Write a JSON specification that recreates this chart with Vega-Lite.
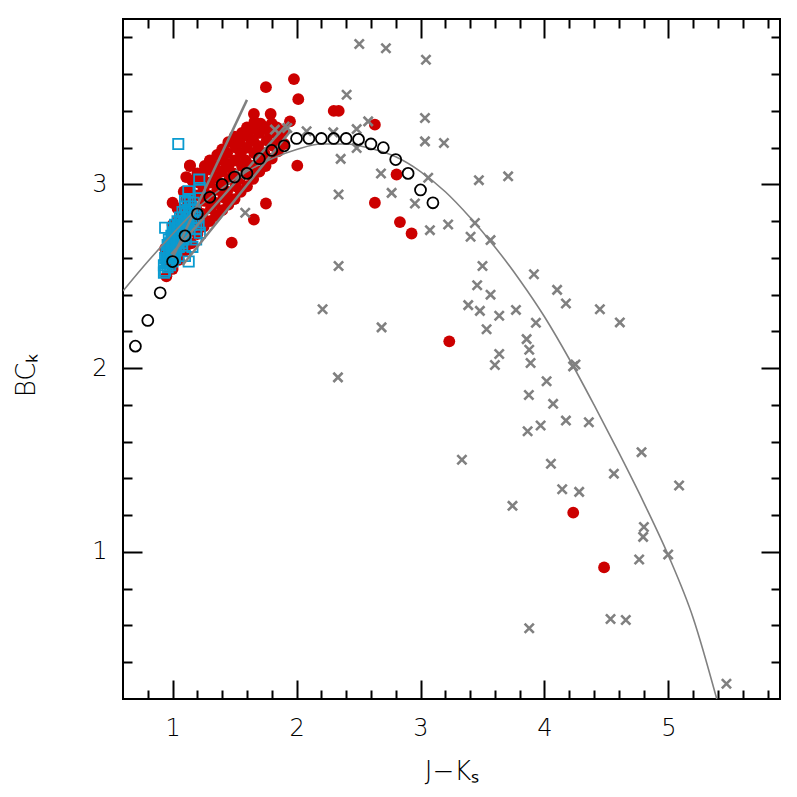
{
  "$schema": "https://vega.github.io/schema/vega-lite/v6.json",
  "width": 657,
  "height": 680,
  "autosize": "none",
  "padding": {"left": 123, "top": 19, "right": 17, "bottom": 98},
  "background": "white",
  "config": {
    "view": {"stroke": "black", "strokeWidth": 2},
    "axis": {
      "grid": false, "domain": false, "tickColor": "black", "tickWidth": 2,
      "labelFont": "DejaVu Sans", "titleFont": "DejaVu Sans",
      "labelColor": "black", "titleColor": "black",
      "labelFontWeight": 200, "titleFontWeight": 200,
      "labelFontSize": 24, "titleFontSize": 26
    }
  },
  "datasets": {
    "red": [
      {"x":0.95,"y":2.50},{"x":0.96,"y":2.58},{"x":0.94,"y":2.65},
      {"x":1.00,"y":2.54},{"x":1.01,"y":2.62},{"x":0.99,"y":2.70},{"x":1.00,"y":2.78},{"x":1.00,"y":2.90},
      {"x":1.05,"y":2.59},{"x":1.04,"y":2.67},{"x":1.06,"y":2.74},{"x":1.05,"y":2.81},{"x":1.04,"y":2.87},
      {"x":1.10,"y":2.64},{"x":1.11,"y":2.71},{"x":1.09,"y":2.78},{"x":1.10,"y":2.85},{"x":1.11,"y":2.92},{"x":1.09,"y":2.96},{"x":1.11,"y":3.04},
      {"x":1.15,"y":2.68},{"x":1.14,"y":2.75},{"x":1.16,"y":2.82},{"x":1.15,"y":2.89},{"x":1.14,"y":2.96},{"x":1.16,"y":3.02},{"x":1.14,"y":3.10},
      {"x":1.20,"y":2.73},{"x":1.21,"y":2.80},{"x":1.19,"y":2.87},{"x":1.20,"y":2.94},{"x":1.21,"y":3.01},{"x":1.20,"y":3.06},
      {"x":1.25,"y":2.77},{"x":1.24,"y":2.84},{"x":1.26,"y":2.91},{"x":1.25,"y":2.98},{"x":1.24,"y":3.05},{"x":1.26,"y":3.10},
      {"x":1.30,"y":2.80},{"x":1.31,"y":2.87},{"x":1.29,"y":2.94},{"x":1.30,"y":3.01},{"x":1.31,"y":3.08},{"x":1.30,"y":3.13},
      {"x":1.35,"y":2.83},{"x":1.34,"y":2.90},{"x":1.36,"y":2.97},{"x":1.35,"y":3.04},{"x":1.34,"y":3.10},{"x":1.36,"y":3.16},
      {"x":1.40,"y":2.86},{"x":1.41,"y":2.93},{"x":1.39,"y":3.00},{"x":1.40,"y":3.07},{"x":1.41,"y":3.13},{"x":1.40,"y":3.19},
      {"x":1.45,"y":2.89},{"x":1.44,"y":2.96},{"x":1.46,"y":3.03},{"x":1.45,"y":3.10},{"x":1.44,"y":3.17},{"x":1.45,"y":3.23},
      {"x":1.50,"y":2.92},{"x":1.51,"y":2.99},{"x":1.49,"y":3.06},{"x":1.50,"y":3.13},{"x":1.51,"y":3.20},{"x":1.50,"y":3.26},
      {"x":1.55,"y":2.96},{"x":1.54,"y":3.03},{"x":1.56,"y":3.10},{"x":1.55,"y":3.17},{"x":1.54,"y":3.23},{"x":1.56,"y":3.28},
      {"x":1.60,"y":2.99},{"x":1.61,"y":3.06},{"x":1.59,"y":3.13},{"x":1.60,"y":3.20},{"x":1.61,"y":3.26},{"x":1.60,"y":3.31},
      {"x":1.65,"y":3.03},{"x":1.64,"y":3.10},{"x":1.66,"y":3.17},{"x":1.65,"y":3.24},{"x":1.64,"y":3.30},{"x":1.66,"y":3.34},
      {"x":1.70,"y":3.07},{"x":1.71,"y":3.14},{"x":1.69,"y":3.21},{"x":1.70,"y":3.28},{"x":1.71,"y":3.33},
      {"x":1.75,"y":3.10},{"x":1.74,"y":3.17},{"x":1.76,"y":3.24},{"x":1.75,"y":3.31},
      {"x":1.80,"y":3.14},{"x":1.81,"y":3.21},{"x":1.79,"y":3.28},{"x":1.80,"y":3.33},
      {"x":1.85,"y":3.18},{"x":1.86,"y":3.25},{"x":1.84,"y":3.31},
      {"x":1.90,"y":3.22},{"x":1.89,"y":3.29},
      {"x":1.979,"y":3.573},{"x":2.014,"y":3.464},{"x":2.30,"y":3.40},{"x":2.34,"y":3.40},{"x":1.947,"y":3.343},
      {"x":2.632,"y":3.325},{"x":2.006,"y":3.102},{"x":2.807,"y":3.054},{"x":2.632,"y":2.90},{"x":2.834,"y":2.795},
      {"x":2.928,"y":2.733},{"x":3.232,"y":2.146},{"x":1.753,"y":3.529},{"x":1.656,"y":3.383},{"x":1.791,"y":3.383},
      {"x":1.753,"y":2.896},{"x":1.656,"y":2.809},{"x":1.477,"y":2.683},{"x":1.14,"y":3.104},{"x":4.232,"y":1.214},{"x":4.481,"y":0.916}
    ],
    "crosses": [
      {"x":2.506,"y":3.764},{"x":2.721,"y":3.741},{"x":3.044,"y":3.678},{"x":2.404,"y":3.488},{"x":3.036,"y":3.361},
      {"x":2.578,"y":3.343},{"x":2.485,"y":3.301},{"x":2.081,"y":3.289},{"x":2.296,"y":3.283},{"x":3.036,"y":3.234},
      {"x":3.189,"y":3.225},{"x":2.485,"y":3.198},{"x":2.356,"y":3.139},{"x":3.062,"y":3.036},{"x":2.681,"y":3.059},
      {"x":2.767,"y":2.954},{"x":2.339,"y":2.945},{"x":2.955,"y":2.896},{"x":3.076,"y":2.751},{"x":3.223,"y":2.782},
      {"x":2.339,"y":2.556},{"x":2.21,"y":2.321},{"x":2.686,"y":2.222},{"x":2.334,"y":1.95},{"x":3.334,"y":1.502},
      {"x":1.586,"y":2.846},{"x":1.826,"y":3.298},{"x":1.925,"y":3.307},{"x":1.544,"y":3.054},
      {"x":3.471,"y":3.023},{"x":3.439,"y":2.79},{"x":3.404,"y":2.715},{"x":3.50,"y":2.556},{"x":3.457,"y":2.451},
      {"x":3.385,"y":2.343},{"x":3.479,"y":2.312},{"x":3.533,"y":2.212},{"x":3.707,"y":3.044},{"x":3.565,"y":2.697},
      {"x":3.915,"y":2.511},{"x":4.102,"y":2.426},{"x":3.565,"y":2.40},{"x":4.173,"y":2.352},{"x":3.635,"y":2.285},
      {"x":3.77,"y":2.317},{"x":4.447,"y":2.321},{"x":3.931,"y":2.247},{"x":4.608,"y":2.249},{"x":3.856,"y":2.158},
      {"x":3.877,"y":2.10},{"x":3.635,"y":2.077},{"x":3.60,"y":2.017},{"x":3.888,"y":2.028},{"x":4.231,"y":2.01},
      {"x":4.25,"y":2.02},{"x":4.017,"y":1.929},{"x":3.874,"y":1.854},{"x":4.07,"y":1.806},{"x":4.173,"y":1.715},
      {"x":4.358,"y":1.706},{"x":3.864,"y":1.657},{"x":3.969,"y":1.688},{"x":4.783,"y":1.543},{"x":4.052,"y":1.480},
      {"x":4.56,"y":1.426},{"x":5.086,"y":1.362},{"x":4.143,"y":1.341},{"x":4.28,"y":1.327},{"x":3.742,"y":1.251},
      {"x":4.802,"y":1.136},{"x":4.796,"y":1.082},{"x":4.998,"y":0.986},{"x":4.764,"y":0.959},{"x":4.533,"y":0.635},
      {"x":4.656,"y":0.630},{"x":3.877,"y":0.585},{"x":5.468,"y":0.283}
    ],
    "squares": [
      {"x":0.93,"y":2.52},{"x":0.93,"y":2.56},{"x":0.94,"y":2.60},{"x":0.94,"y":2.53},{"x":0.95,"y":2.57},{"x":0.95,"y":2.63},
      {"x":0.96,"y":2.55},{"x":0.96,"y":2.60},{"x":0.96,"y":2.67},{"x":0.97,"y":2.58},{"x":0.97,"y":2.64},{"x":0.97,"y":2.70},
      {"x":0.98,"y":2.56},{"x":0.98,"y":2.62},{"x":0.98,"y":2.68},{"x":0.99,"y":2.60},{"x":0.99,"y":2.66},{"x":0.99,"y":2.72},
      {"x":1.00,"y":2.58},{"x":1.00,"y":2.64},{"x":1.00,"y":2.70},{"x":1.00,"y":2.76},{"x":1.01,"y":2.62},{"x":1.01,"y":2.68},
      {"x":1.01,"y":2.74},{"x":1.02,"y":2.60},{"x":1.02,"y":2.66},{"x":1.02,"y":2.72},{"x":1.02,"y":2.78},{"x":1.03,"y":2.64},
      {"x":1.03,"y":2.70},{"x":1.03,"y":2.76},{"x":1.04,"y":2.68},{"x":1.04,"y":2.74},{"x":1.04,"y":2.80},{"x":1.05,"y":2.66},
      {"x":1.05,"y":2.72},{"x":1.05,"y":2.78},{"x":1.06,"y":2.70},{"x":1.06,"y":2.76},{"x":1.06,"y":2.82},{"x":1.07,"y":2.68},
      {"x":1.07,"y":2.74},{"x":1.07,"y":2.80},{"x":1.08,"y":2.72},{"x":1.08,"y":2.78},{"x":1.08,"y":2.85},{"x":1.09,"y":2.70},
      {"x":1.09,"y":2.76},{"x":1.09,"y":2.82},{"x":1.10,"y":2.74},{"x":1.10,"y":2.80},{"x":1.10,"y":2.88},{"x":1.11,"y":2.78},
      {"x":1.11,"y":2.84},{"x":1.12,"y":2.76},{"x":1.12,"y":2.82},{"x":1.12,"y":2.90},{"x":1.13,"y":2.80},{"x":1.13,"y":2.86},
      {"x":1.14,"y":2.84},{"x":1.14,"y":2.92},{"x":1.15,"y":2.78},{"x":1.15,"y":2.88},{"x":1.16,"y":2.84},{"x":1.17,"y":2.80},
      {"x":1.17,"y":2.90},{"x":1.18,"y":2.86},{"x":1.19,"y":2.76},{"x":1.20,"y":2.82},{"x":1.21,"y":2.78},
      {"x":1.046,"y":3.22},{"x":1.215,"y":3.026},{"x":1.22,"y":2.98},{"x":1.127,"y":2.963},{"x":1.10,"y":2.909},
      {"x":0.94,"y":2.764},{"x":1.22,"y":2.737},{"x":1.10,"y":2.61},{"x":1.13,"y":2.58},{"x":1.16,"y":2.66},{"x":1.19,"y":2.70}
    ],
    "segments": [
      {"x":1.0,"y":2.60,"x2":1.6,"y2":3.46},
      {"x":0.99,"y":2.62,"x2":1.94,"y2":3.34},
      {"x":1.08,"y":2.56,"x2":1.95,"y2":3.29}
    ],
    "curve": [
      {"x":0.6,"y":2.42},{"x":0.8,"y":2.58},{"x":1.0,"y":2.73},{"x":1.2,"y":2.87},{"x":1.4,"y":2.98},
      {"x":1.6,"y":3.07},{"x":1.8,"y":3.14},{"x":2.0,"y":3.19},{"x":2.2,"y":3.22},{"x":2.4,"y":3.22},
      {"x":2.6,"y":3.195},{"x":2.8,"y":3.15},{"x":3.0,"y":3.07},{"x":3.2,"y":2.96},{"x":3.4,"y":2.82},
      {"x":3.6,"y":2.66},{"x":3.8,"y":2.48},{"x":4.0,"y":2.28},{"x":4.2,"y":2.05},{"x":4.4,"y":1.80},
      {"x":4.6,"y":1.54},{"x":4.8,"y":1.27},{"x":5.0,"y":0.98},{"x":5.2,"y":0.64},{"x":5.39,"y":0.2}
    ],
    "means": [
      {"x":0.7,"y":2.12},{"x":0.8,"y":2.26},{"x":0.9,"y":2.41},{"x":1.0,"y":2.58},{"x":1.1,"y":2.72},
      {"x":1.2,"y":2.84},{"x":1.3,"y":2.93},{"x":1.4,"y":3.00},{"x":1.5,"y":3.04},{"x":1.6,"y":3.06},
      {"x":1.7,"y":3.14},{"x":1.8,"y":3.185},{"x":1.9,"y":3.21},{"x":2.0,"y":3.25},{"x":2.1,"y":3.25},
      {"x":2.2,"y":3.25},{"x":2.3,"y":3.25},{"x":2.4,"y":3.25},{"x":2.5,"y":3.245},{"x":2.6,"y":3.22},
      {"x":2.7,"y":3.20},{"x":2.8,"y":3.135},{"x":2.9,"y":3.06},{"x":3.0,"y":2.97},{"x":3.1,"y":2.90}
    ]
  },
  "layer": [
    {
      "data": {"name": "red"},
      "mark": {"type": "circle", "color": "#cc0000", "opacity": 1, "size": 140},
      "encoding": {
        "x": {"field": "x", "type": "quantitative", "scale": {"domain": [0.6, 5.9], "nice": false, "zero": false},
              "axis": {"orient": "bottom", "values": [1,2,3,4,5], "tickSize": -19, "labelPadding": 36, "format": "d",
                       "labelFlush": false, "title": "J−Kₛ", "titlePadding": 18}},
        "y": {"field": "y", "type": "quantitative", "scale": {"domain": [0.2, 3.9], "nice": false, "zero": false},
              "axis": {"orient": "left", "values": [1,2,3], "tickSize": -19, "labelPadding": 35, "format": "d",
                       "labelFlush": false, "title": "BCₖ", "titlePadding": 52, "titleY": 356}}
      }
    },
    {
      "data": {"name": "crosses"},
      "mark": {"type": "point", "shape": "M-1,-1L1,1M1,-1L-1,1", "filled": false, "stroke": "#808080", "strokeWidth": 2.6, "size": 85, "opacity": 1},
      "encoding": {
        "x": {"field": "x", "type": "quantitative", "scale": {"domain": [0.6, 5.9], "nice": false, "zero": false},
              "axis": {"orient": "bottom", "values": [0.8,1.2,1.4,1.6,1.8,2.2,2.4,2.6,2.8,3.2,3.4,3.6,3.8,4.2,4.4,4.6,4.8,5.2,5.4,5.6,5.8],
                       "tickSize": -9, "labels": false, "title": null}},
        "y": {"field": "y", "type": "quantitative", "scale": {"domain": [0.2, 3.9], "nice": false, "zero": false},
              "axis": {"orient": "left", "values": [0.4,0.6,0.8,1.2,1.4,1.6,1.8,2.2,2.4,2.6,2.8,3.2,3.4,3.6,3.8],
                       "tickSize": -9, "labels": false, "title": null}}
      }
    },
    {
      "data": {"name": "squares"},
      "mark": {"type": "point", "shape": "square", "filled": false, "stroke": "#0a9bd0", "strokeWidth": 1.8, "size": 105, "opacity": 1},
      "encoding": {
        "x": {"field": "x", "type": "quantitative", "scale": {"domain": [0.6, 5.9], "nice": false, "zero": false},
              "axis": {"orient": "top", "values": [1,2,3,4,5], "tickSize": -19, "labels": false, "title": null}},
        "y": {"field": "y", "type": "quantitative", "scale": {"domain": [0.2, 3.9], "nice": false, "zero": false},
              "axis": {"orient": "right", "values": [1,2,3], "tickSize": -19, "labels": false, "title": null}}
      }
    },
    {
      "data": {"name": "segments"},
      "mark": {"type": "rule", "color": "#808080", "strokeWidth": 2.5},
      "encoding": {
        "x": {"field": "x", "type": "quantitative", "scale": {"domain": [0.6, 5.9], "nice": false, "zero": false},
              "axis": {"orient": "top", "values": [0.8,1.2,1.4,1.6,1.8,2.2,2.4,2.6,2.8,3.2,3.4,3.6,3.8,4.2,4.4,4.6,4.8,5.2,5.4,5.6,5.8],
                       "tickSize": -9, "labels": false, "title": null}},
        "y": {"field": "y", "type": "quantitative", "scale": {"domain": [0.2, 3.9], "nice": false, "zero": false},
              "axis": {"orient": "right", "values": [0.4,0.6,0.8,1.2,1.4,1.6,1.8,2.2,2.4,2.6,2.8,3.2,3.4,3.6,3.8],
                       "tickSize": -9, "labels": false, "title": null}},
        "x2": {"field": "x2"},
        "y2": {"field": "y2"}
      }
    },
    {
      "data": {"name": "curve"},
      "mark": {"type": "line", "color": "#808080", "strokeWidth": 1.6, "interpolate": "monotone", "clip": true},
      "encoding": {
        "x": {"field": "x", "type": "quantitative", "scale": {"domain": [0.6, 5.9], "nice": false, "zero": false}, "axis": null},
        "y": {"field": "y", "type": "quantitative", "scale": {"domain": [0.2, 3.9], "nice": false, "zero": false}, "axis": null}
      }
    },
    {
      "data": {"name": "means"},
      "mark": {"type": "point", "shape": "circle", "filled": false, "stroke": "black", "strokeWidth": 1.8, "size": 120, "opacity": 1},
      "encoding": {
        "x": {"field": "x", "type": "quantitative", "scale": {"domain": [0.6, 5.9], "nice": false, "zero": false}, "axis": null},
        "y": {"field": "y", "type": "quantitative", "scale": {"domain": [0.2, 3.9], "nice": false, "zero": false}, "axis": null}
      }
    }
  ],
  "resolve": {"axis": {"x": "independent", "y": "independent"}}
}
